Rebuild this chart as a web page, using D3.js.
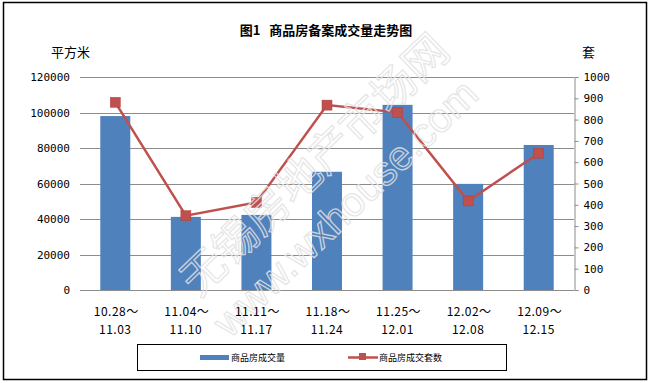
<!DOCTYPE html>
<html>
<head>
<meta charset="utf-8">
<script src="https://cdn.jsdelivr.net/npm/d3@7"></script>
<style>
  body { margin: 0; background: #fff; }
  text { font-family: "Noto Sans CJK SC", sans-serif; }
</style>
</head>
<body>
<div id="container"></div>
<script>
///data
let weeksA = ["10.28～", "11.04～", "11.11～", "11.18～", "11.25～", "12.02～", "12.09～"];
let weeksB = ["11.03", "11.10", "11.17", "11.24", "12.01", "12.08", "12.15"];
let area = [98000, 41200, 42300, 66600, 104300, 59800, 81700];   // 平方米
let units = [881, 349, 411, 868, 834, 418, 642];                   // 套
let leftTicks = [0, 20000, 40000, 60000, 80000, 100000, 120000];
let rightTicks = [0, 100, 200, 300, 400, 500, 600, 700, 800, 900, 1000];

///size
let w = 652, h = 383;
let plotL = 80, plotR = 574, plotT = 77, plotB = 290;
let blue = "#4f81bd", red = "#c0504d", grid = "#8c8c8c";

let svg = d3.select("#container").append("svg")
  .attr("width", w).attr("height", h);

svg.append("rect")
  .attr("x", 3.5).attr("y", 2.5).attr("width", 643).attr("height", 377)
  .attr("fill", "#fff").attr("stroke", "#000").attr("stroke-width", 1.5);

///scales
let x = d3.scaleBand().domain(weeksA).range([plotL, plotR]);
let yL = d3.scaleLinear().domain([0, 120000]).range([plotB, plotT]);
let yR = d3.scaleLinear().domain([0, 1000]).range([plotB, plotT]);

///grid lines
svg.append("g").selectAll("line").data(leftTicks).enter().append("line")
  .attr("x1", plotL).attr("x2", plotR)
  .attr("y1", d => Math.round(yL(d)) + 0.5).attr("y2", d => Math.round(yL(d)) + 0.5)
  .attr("stroke", grid).attr("stroke-width", 1);

///left axis
let yAxisL = svg.append("g").attr("transform", "translate(" + (plotL - 8) + ",0)")
  .call(d3.axisLeft(yL).tickValues(leftTicks).tickFormat(d3.format("d")).tickSize(0).tickPadding(2));
yAxisL.select(".domain").remove();
yAxisL.selectAll("text").style("font-family", "DejaVu Sans Mono").style("font-size", "11px").attr("fill", "#000");

///right axis
let yAxisR = svg.append("g").attr("transform", "translate(" + (plotR + 0.5) + ",0)")
  .call(d3.axisRight(yR).tickValues(rightTicks).tickFormat(d3.format("d")).tickSize(4).tickPadding(5));
yAxisR.select(".domain").attr("stroke", grid);
yAxisR.selectAll("line").attr("stroke", grid);
yAxisR.selectAll("text").style("font-family", "DejaVu Sans Mono").style("font-size", "11px").attr("fill", "#000");

///bars
svg.append("g").selectAll("rect").data(area).enter().append("rect")
  .attr("x", (d, i) => x(weeksA[i]) + x.bandwidth() / 2 - 15)
  .attr("y", d => yL(d))
  .attr("width", 30)
  .attr("height", d => yL(0) - yL(d))
  .attr("fill", blue);

///line
let line = d3.line()
  .x((d, i) => x(weeksA[i]) + x.bandwidth() / 2)
  .y(d => yR(d));
svg.append("path").datum(units)
  .attr("d", line).attr("fill", "none")
  .attr("stroke", red).attr("stroke-width", 2.5);
svg.append("g").selectAll("rect").data(units).enter().append("rect")
  .attr("x", (d, i) => x(weeksA[i]) + x.bandwidth() / 2 - 5)
  .attr("y", d => yR(d) - 5)
  .attr("width", 10).attr("height", 10)
  .attr("fill", red).attr("stroke", "#b0403d").attr("stroke-width", 0.5);

///watermark (drawn over the marks)
let wm = svg.append("g")
  .attr("transform", "translate(315,165) rotate(-44)")
  .attr("fill", "none").attr("stroke", "#e2e2e2").attr("stroke-opacity", 0.85).attr("stroke-width", 1.3);
wm.append("text").attr("x", 0).attr("y", 15).attr("text-anchor", "middle")
  .style("font-size", "44px").text("无锡房地产市场网");
wm.append("text").attr("x", -8).attr("y", 66).attr("text-anchor", "middle")
  .style("font-size", "41px").style("font-family", "Liberation Sans").text("www.wxhouse.com");

///x labels
let xl = svg.append("g");
xl.selectAll("text.a").data(weeksA).enter().append("text")
  .attr("class", "a")
  .attr("x", d => x(d) + x.bandwidth() / 2 + 1)
  .attr("y", 316).attr("text-anchor", "middle")
  .style("font-size", "12px").style("letter-spacing", "0.5px").text(d => d);
xl.selectAll("text.b").data(weeksB).enter().append("text")
  .attr("class", "b")
  .attr("x", (d, i) => x(weeksA[i]) + x.bandwidth() / 2)
  .attr("y", 334).attr("text-anchor", "middle")
  .style("font-size", "12px").style("letter-spacing", "0.5px").text(d => d);

///titles
svg.append("text").attr("x", 326).attr("y", 35).attr("text-anchor", "middle")
  .style("font-size", "13px").style("font-weight", "bold")
  .text("图1\u00a0\u00a0\u00a0商品房备案成交量走势图");
svg.append("text").attr("x", 51).attr("y", 57)
  .style("font-size", "13px").text("平方米");
svg.append("text").attr("x", 582).attr("y", 57)
  .style("font-size", "13px").text("套");

///legend
let lg = svg.append("g");
lg.append("rect").attr("x", 137.5).attr("y", 344.5).attr("width", 369).attr("height", 26)
  .attr("fill", "#fff").attr("stroke", "#000").attr("stroke-width", 1);
lg.append("rect").attr("x", 200).attr("y", 355).attr("width", 29).attr("height", 5).attr("fill", blue);
lg.append("text").attr("x", 231).attr("y", 361).style("font-size", "9px").text("商品房成交量");
lg.append("line").attr("x1", 348).attr("x2", 378).attr("y1", 357.5).attr("y2", 357.5)
  .attr("stroke", red).attr("stroke-width", 2.5);
lg.append("rect").attr("x", 359).attr("y", 353).attr("width", 7).attr("height", 7).attr("fill", red);
lg.append("text").attr("x", 379).attr("y", 361).style("font-size", "9px").text("商品房成交套数");
</script>
</body>
</html>
